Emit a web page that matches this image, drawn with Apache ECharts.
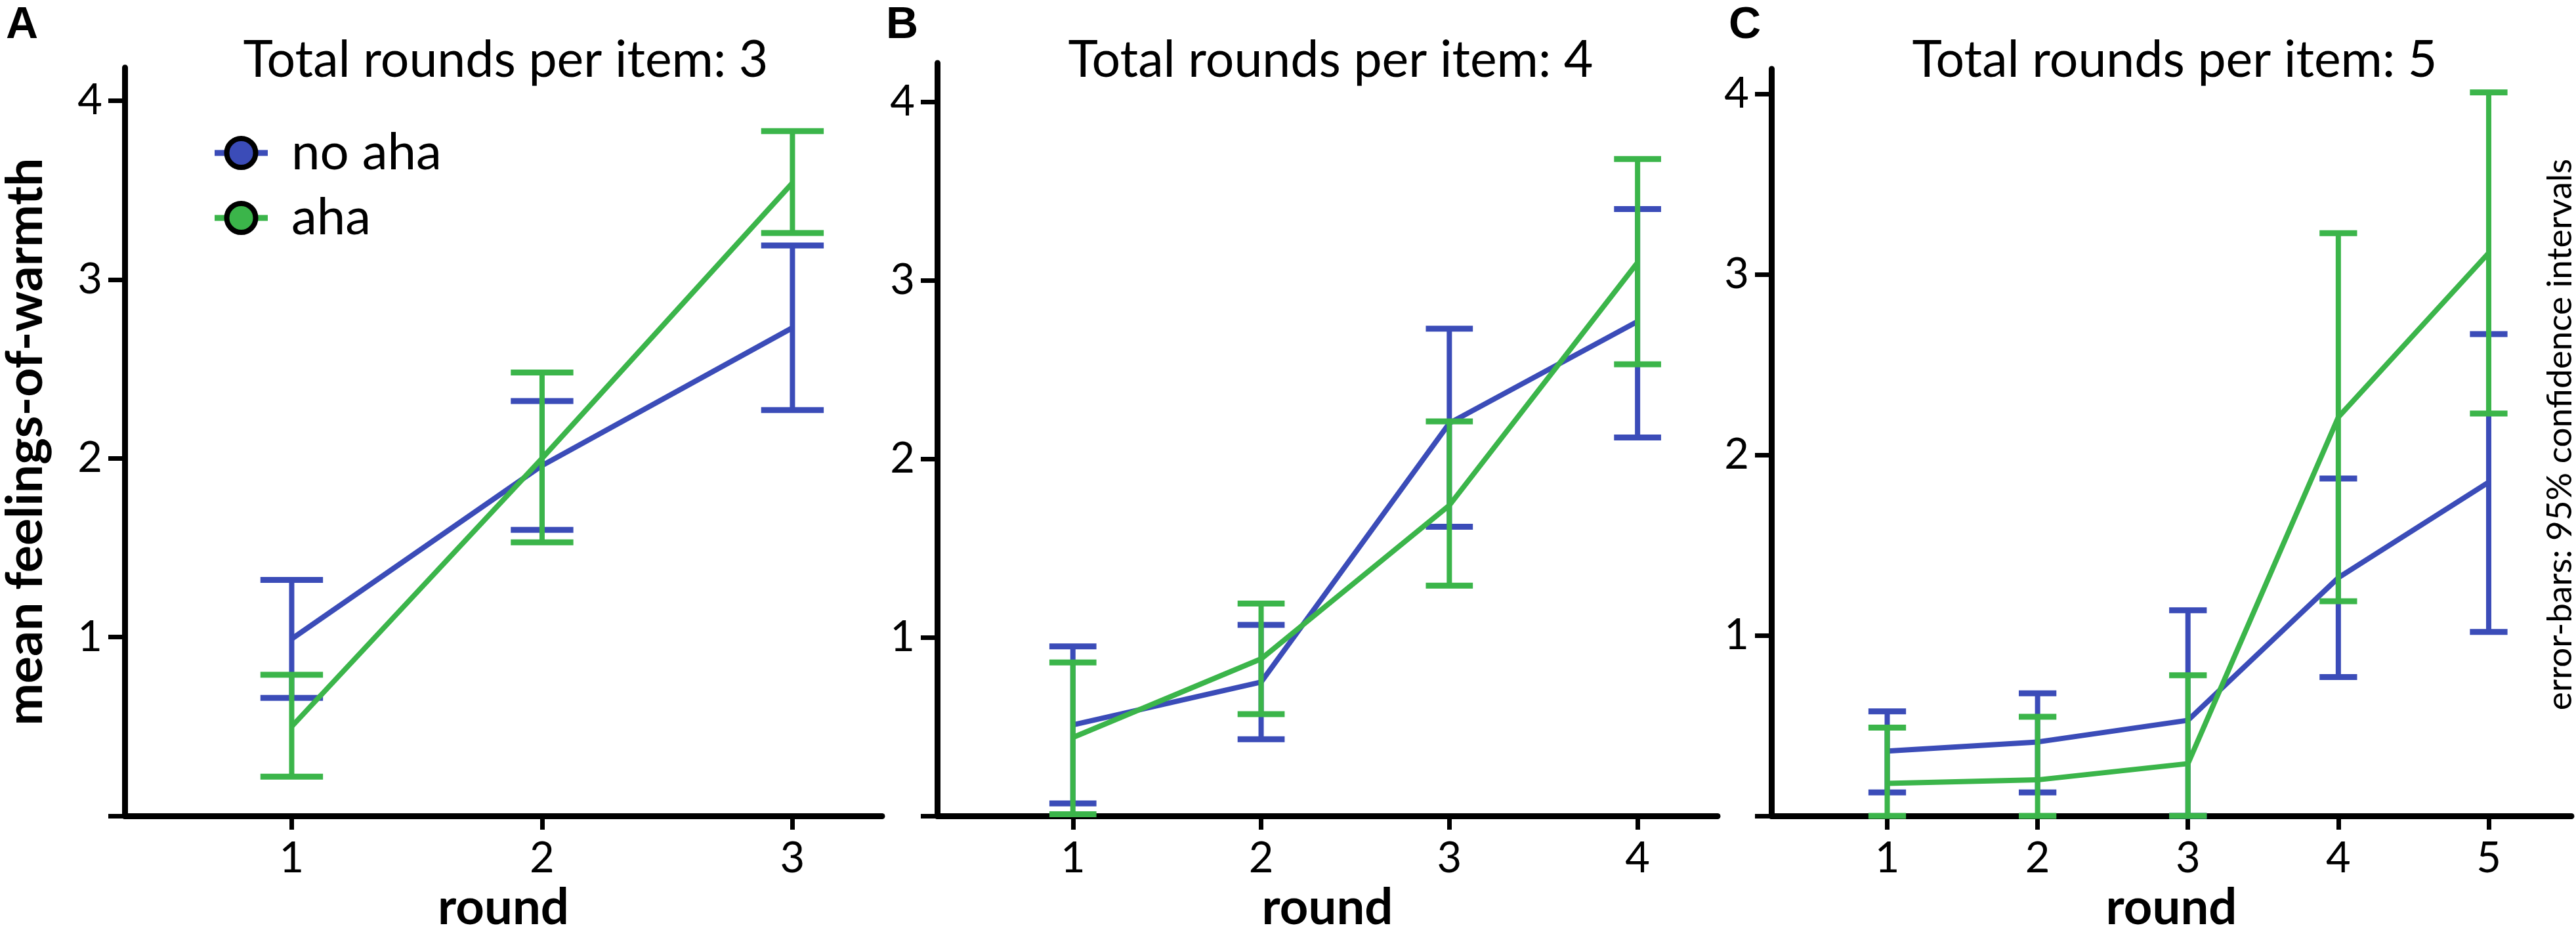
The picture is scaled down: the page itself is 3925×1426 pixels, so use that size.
<!DOCTYPE html>
<html>
<head>
<meta charset="utf-8">
<script src="https://cdn.jsdelivr.net/npm/echarts@6/dist/echarts.min.js"></script>
<style>
  html, body { margin: 0; padding: 0; background: #fff; }
  #chart { width: 3925px; height: 1426px; }
</style>
</head>
<body>
<div id="chart"></div>
<script>
// panel A: 3 rounds per item
const roundsA = [1, 2, 3]
const noAhaMeanA = [0.99, 1.96, 2.73]
const noAhaLowA = [0.66, 1.60, 2.27]
const noAhaHighA = [1.32, 2.32, 3.19]
const ahaMeanA = [0.50, 2.00, 3.54]
const ahaLowA = [0.22, 1.53, 3.26]
const ahaHighA = [0.79, 2.48, 3.83]

// panel B: 4 rounds per item
const roundsB = [1, 2, 3, 4]
const noAhaMeanB = [0.51, 0.75, 2.20, 2.77]
const noAhaLowB = [0.07, 0.43, 1.62, 2.12]
const noAhaHighB = [0.95, 1.07, 2.73, 3.40]
const ahaMeanB = [0.44, 0.88, 1.74, 3.10]
const ahaLowB = [0.01, 0.57, 1.29, 2.53]
const ahaHighB = [0.86, 1.19, 2.21, 3.68]

// panel C: 5 rounds per item
const roundsC = [1, 2, 3, 4, 5]
const noAhaMeanC = [0.36, 0.41, 0.53, 1.32, 1.85]
const noAhaLowC = [0.13, 0.13, 0.0, 0.77, 1.02]
const noAhaHighC = [0.58, 0.68, 1.14, 1.87, 2.67]
const ahaMeanC = [0.18, 0.20, 0.29, 2.21, 3.12]
const ahaLowC = [0.0, 0.0, 0.0, 1.19, 2.23]
const ahaHighC = [0.49, 0.55, 0.78, 3.23, 4.01]

const yTicks = [0, 1, 2, 3, 4]
const yLabels = [1, 2, 3, 4]
const panelTitles = ['Total rounds per item: 3', 'Total rounds per item: 4', 'Total rounds per item: 5']
const panelLetters = ['A', 'B', 'C']

const BLUE = '#3b4cb8'
const GREEN = '#3bb54a'
const FONT = 'Lato'

const chart = echarts.init(document.getElementById('chart'), null, { renderer: 'canvas' })

// error bar with caps, 1/4 of a round wide
function errorBar(params, api) {
  const x = api.value(0)
  const lo = api.coord([x, api.value(1)])
  const hi = api.coord([x, api.value(2)])
  const half = api.size([0.125, 0])[0]
  const color = api.visual('color')
  return {
    type: 'group',
    children: [
      { type: 'line', shape: { x1: lo[0], y1: lo[1], x2: hi[0], y2: hi[1] }, style: { stroke: color, lineWidth: 8 } },
      { type: 'line', shape: { x1: lo[0] - half, y1: lo[1], x2: lo[0] + half, y2: lo[1] }, style: { stroke: color, lineWidth: 9 } },
      { type: 'line', shape: { x1: hi[0] - half, y1: hi[1], x2: hi[0] + half, y2: hi[1] }, style: { stroke: color, lineWidth: 9 } },
    ],
  }
}

// legend icon: coloured line with a black-ringed dot
function legendIcon(color) {
  const svg = '<svg xmlns="http://www.w3.org/2000/svg" width="81" height="52" viewBox="0 0 81 52">' +
    '<line x1="0" y1="26" x2="81" y2="26" stroke="' + color + '" stroke-width="9" stroke-linecap="round"/>' +
    '<circle cx="40.5" cy="26" r="22" fill="' + color + '" stroke="#000" stroke-width="8"/></svg>'
  return 'image://data:image/svg+xml;charset=utf-8,' + encodeURIComponent(svg)
}

const panels = [
  { rounds: roundsA, noMean: noAhaMeanA, noLow: noAhaLowA, noHigh: noAhaHighA, ahaMean: ahaMeanA, ahaLow: ahaLowA, ahaHigh: ahaHighA,
    grid: { left: 187, top: 103, width: 1157, height: 1154 }, xMin: 0.333, xMax: 3.358, yMax: 4.185 },
  { rounds: roundsB, noMean: noAhaMeanB, noLow: noAhaLowB, noHigh: noAhaHighB, ahaMean: ahaMeanB, ahaLow: ahaLowB, ahaHigh: ahaHighB,
    grid: { left: 1428, top: 96, width: 1189, height: 1161 }, xMin: 0.279, xMax: 4.425, yMax: 4.218 },
  { rounds: roundsC, noMean: noAhaMeanC, noLow: noAhaLowC, noHigh: noAhaHighC, ahaMean: ahaMeanC, ahaLow: ahaLowC, ahaHigh: ahaHighC,
    grid: { left: 2699, top: 105, width: 1219, height: 1152 }, xMin: 0.2296, xMax: 5.55, yMax: 4.14 },
]

const grids = []
const xAxes = []
const yAxes = []
const series = []
const titles = []

panels.forEach((p, i) => {
  grids.push(p.grid)
  xAxes.push({
    type: 'value',
    gridIndex: i,
    min: p.xMin,
    max: p.xMax,
    name: 'round',
    nameLocation: 'middle',
    nameGap: 100,
    nameTextStyle: { fontFamily: FONT, fontWeight: 'bold', fontSize: 76, color: '#000' },
    axisLine: { lineStyle: { color: '#000', width: 9 } },
    axisTick: { show: true, length: 21, lineStyle: { width: 7, color: '#000' }, customValues: p.rounds },
    axisLabel: { fontFamily: FONT, fontSize: 65, color: '#000', margin: 32, customValues: p.rounds },
    splitLine: { show: false },
  })
  yAxes.push({
    type: 'value',
    gridIndex: i,
    min: 0,
    max: p.yMax,
    name: i === 0 ? 'mean feelings-of-warmth' : '',
    nameLocation: 'middle',
    nameGap: 112,
    nameRotate: 90,
    nameTextStyle: { fontFamily: FONT, fontWeight: 'bold', fontSize: 77, color: '#000' },
    axisLine: { show: true, lineStyle: { color: '#000', width: 9 } },
    axisTick: { show: true, length: 25, lineStyle: { width: 7, color: '#000' }, customValues: yTicks },
    axisLabel: { fontFamily: FONT, fontSize: 65, color: '#000', margin: 34, customValues: yLabels },
    splitLine: { show: false },
  })
  const cx = p.grid.left + p.grid.width / 2
  titles.push({
    text: panelTitles[i],
    left: cx,
    top: 49,
    textAlign: 'center',
    textStyle: { fontFamily: FONT, fontWeight: 'normal', fontSize: 77, color: '#000' },
  })
  series.push({
    name: 'no aha CI',
    type: 'custom',
    xAxisIndex: i,
    yAxisIndex: i,
    renderItem: errorBar,
    itemStyle: { color: BLUE },
    encode: { x: 0, y: [1, 2] },
    clip: false,
    z: 2,
    data: p.rounds.map((r, k) => [r, p.noLow[k], p.noHigh[k]]),
  })
  series.push({
    name: 'no aha',
    type: 'line',
    xAxisIndex: i,
    yAxisIndex: i,
    symbol: 'circle',
    showSymbol: false,
    itemStyle: { color: BLUE },
    lineStyle: { color: BLUE, width: 8 },
    z: 2,
    data: p.rounds.map((r, k) => [r, p.noMean[k]]),
  })
  series.push({
    name: 'aha CI',
    type: 'custom',
    xAxisIndex: i,
    yAxisIndex: i,
    renderItem: errorBar,
    itemStyle: { color: GREEN },
    encode: { x: 0, y: [1, 2] },
    clip: false,
    z: 3,
    data: p.rounds.map((r, k) => [r, p.ahaLow[k], p.ahaHigh[k]]),
  })
  series.push({
    name: 'aha',
    type: 'line',
    xAxisIndex: i,
    yAxisIndex: i,
    symbol: 'circle',
    showSymbol: false,
    itemStyle: { color: GREEN },
    lineStyle: { color: GREEN, width: 8 },
    z: 3,
    data: p.rounds.map((r, k) => [r, p.ahaMean[k]]),
  })
})

const letterLeft = [4, 1345, 2629]
panelLetters.forEach((t, i) => {
  titles.push({
    text: t,
    left: letterLeft[i],
    top: 0,
    textStyle: { fontFamily: 'Liberation Sans', fontWeight: 'bold', fontSize: 68, color: '#000' },
  })
})

const option = {
  animation: false,
  backgroundColor: '#fff',
  title: titles,
  legend: {
    data: [
      { name: 'no aha', icon: legendIcon(BLUE) },
      { name: 'aha', icon: legendIcon(GREEN) },
    ],
    orient: 'vertical',
    left: 322,
    top: 189,
    itemWidth: 81,
    itemHeight: 52,
    itemGap: 21,
    textStyle: { fontFamily: FONT, fontSize: 78, color: '#000', padding: [0, 0, 0, 31] },
  },
  grid: grids,
  xAxis: xAxes,
  yAxis: yAxes,
  series: series,
  graphic: [
    {
      type: 'text',
      x: 3901,
      y: 662,
      rotation: Math.PI / 2,
      style: {
        text: 'error-bars: 95% confidence intervals',
        fontFamily: FONT,
        fontSize: 53,
        fill: '#000',
        align: 'center',
        verticalAlign: 'middle',
      },
    },
  ],
}

chart.setOption(option)
</script>
</body>
</html>
